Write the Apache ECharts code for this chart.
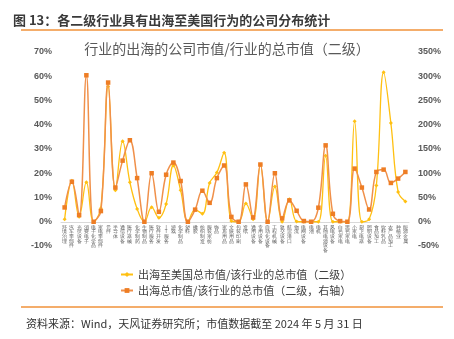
<!DOCTYPE html>
<html>
<head>
<meta charset="utf-8">
<script src="https://cdn.jsdelivr.net/npm/echarts@6/dist/echarts.min.js"></script>
<style>
  html, body { margin: 0; padding: 0; background: #fff; }
  #chart { width: 454px; height: 339px; }
</style>
</head>
<body>
<div id="chart"></div>
<script>
// 申万二级行业
const industries = [
  '环境治理', '汽车零部件', '光伏设备', '消费电子', '电子化学品', '家电零部件',
  '元件', '半导体', '通信设备', '医疗器械', '化学制药', '生物制品',
  '医疗服务', '软件开发', 'IT服务', '游戏', '化学制品', '塑料',
  '橡胶', '纺织制造', '服装家纺', '饰品', '家居用品', '文娱用品',
  '包装印刷', '造纸', '通用设备', '专用设备', '自动化设备', '工程机械',
  '轨交设备', '航运港口', '物流', '电网设备', '电池', '电机',
  '其他电源设备', '风电设备', '白色家电', '黑色家电', '小家电', '厨卫电器',
  '照明设备', '食品加工', '饮料乳品', '农产品加工', '种植业', '能源金属'
];

// 出海至美国总市值/该行业的总市值（%，左轴）
const usShare = [
  1, 16.9, 2.1, 16.3, 0, 5.6, 55.8, 13, 33.2, 16.3, 5.3, 0,
  6, 1.6, 7.3, 23.2, 13, 0, 5, 3.3, 16, 20.3, 28.5, 0.3,
  0, 7.5, 1, 23.5, 0, 14.5, 0, 9.3, 0.1, 0, 0, 0,
  27.2, 0, 0, 0, 41.4, 0, 1, 15, 61.6, 40.7, 12.3, 8.4
];

// 出海总市值/该行业的总市值（%，右轴）
const overseasShare = [
  29.5, 82.5, 13.7, 302, 0, 22, 287, 70.5, 126, 168, 90, 0,
  100, 20.5, 97, 122, 84, 0, 25, 64, 39, 90, 116, 10,
  0, 77, 9, 118, 0, 100, 7, 44, 22.6, 1.5, 0, 29,
  157.5, 16.4, 1.4, 0, 109.6, 70.5, 25.3, 102.7, 107.5, 80, 89, 102.7
];

const seriesNames = [
  '出海至美国总市值/该行业的总市值（二级）',
  '出海总市值/该行业的总市值（二级，右轴）'
];

const orange = '#EE7D24';
const yellow = '#FFC012';
const axisText = '#595959';

const chart = echarts.init(document.getElementById('chart'), null, { renderer: 'canvas' });

chart.setOption({
  animation: false,
  backgroundColor: '#fff',
  title: [
    {
      text: '图 13：各二级行业具有出海至美国行为的公司分布统计',
      left: 8, top: 9,
      textStyle: { fontSize: 13, fontWeight: 'bold', color: '#3a3a3a', fontFamily: 'Noto Sans CJK SC' }
    },
    {
      text: '行业的出海的公司市值/行业的总市值（二级）',
      left: 'center', top: 37,
      textStyle: { fontSize: 14, fontWeight: 'normal', color: axisText, fontFamily: 'Noto Sans CJK SC' }
    },
    {
      text: '资料来源：Wind，天风证券研究所；市值数据截至 2024 年 5 月 31 日',
      left: 21, top: 313,
      textStyle: { fontSize: 11, fontWeight: 'normal', color: '#333', fontFamily: 'Noto Sans CJK SC' }
    }
  ],
  graphic: [
    { type: 'line', shape: { x1: 21, y1: 30, x2: 443, y2: 30 }, style: { stroke: '#F0923A', lineWidth: 1.5 } },
    { type: 'line', shape: { x1: 21, y1: 307, x2: 443, y2: 307 }, style: { stroke: '#F0923A', lineWidth: 1.5 } }
  ],
  legend: {
    orient: 'vertical',
    left: 115, top: 264,
    itemGap: 5,
    itemWidth: 12, itemHeight: 6,
    textStyle: { fontSize: 11, color: '#404040', fontFamily: 'Noto Sans CJK SC' },
    data: seriesNames
  },
  grid: { left: 61, right: 45, top: 52, bottom: 93 },
  xAxis: {
    type: 'category',
    data: industries,
    boundaryGap: true,
    axisLine: { onZero: true, lineStyle: { color: '#D9D9D9' } },
    axisTick: { show: false },
    axisLabel: {
      interval: 0,
      hideOverlap: false,
      margin: -21,
      fontSize: 4.5,
      lineHeight: 4.7,
      color: axisText,
      verticalAlign: 'top',
      formatter: v => v.split('').join('\n')
    }
  },
  yAxis: [
    {
      type: 'value', min: -10, max: 70, interval: 10,
      splitLine: { show: false },
      axisLine: { show: false }, axisTick: { show: false },
      axisLabel: { formatter: '{value}%', fontSize: 9, fontWeight: 'bold', color: axisText, margin: 9 }
    },
    {
      type: 'value', min: -50, max: 350, interval: 50,
      splitLine: { show: false },
      axisLine: { show: false }, axisTick: { show: false },
      axisLabel: { formatter: '{value}%', fontSize: 9, fontWeight: 'bold', color: axisText, margin: 9 }
    }
  ],
  series: [
    {
      name: seriesNames[0],
      type: 'line',
      yAxisIndex: 0,
      data: usShare,
      smooth: 0.4,
      symbol: 'diamond',
      symbolSize: 4,
      itemStyle: { color: yellow },
      lineStyle: { color: yellow, width: 1.3 },
      z: 2
    },
    {
      name: seriesNames[1],
      type: 'line',
      yAxisIndex: 1,
      data: overseasShare,
      smooth: 0.4,
      symbol: 'rect',
      symbolSize: 4.5,
      itemStyle: { color: orange },
      lineStyle: { color: '#F0904A', width: 1.5 },
      z: 3
    }
  ]
});
</script>
</body>
</html>
